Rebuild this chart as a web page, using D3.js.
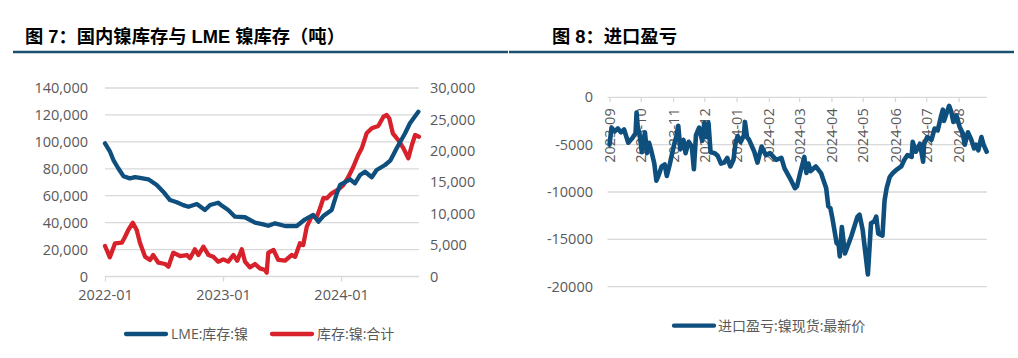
<!DOCTYPE html>
<html><head><meta charset="utf-8">
<script src="https://cdn.jsdelivr.net/npm/d3@7/dist/d3.min.js"></script>
<style>
html,body{margin:0;padding:0;background:#fff;}
svg{display:block;}
</style></head>
<body>
<svg id="c" width="1018" height="358"></svg>
<script>
// ---------- DATA ----------
const leftTitle = "图 7：国内镍库存与 LME 镍库存（吨）";
const rightTitle = "图 8：进口盈亏";
const lmeName = "LME:库存:镍";
const domName = "库存:镍:合计";
const spreadName = "进口盈亏:镍现货:最新价";

const lmeDates = ["2022-01-01","2022-01-16","2022-01-27","2022-02-11","2022-02-27","2022-03-19","2022-04-04","2022-04-19","2022-05-15","2022-06-10","2022-06-30","2022-07-21","2022-08-11","2022-08-31","2022-09-16","2022-10-12","2022-11-06","2022-11-22","2022-12-17","2022-12-29","2023-01-17","2023-02-07","2023-03-10","2023-04-10","2023-05-02","2023-05-21","2023-06-11","2023-07-12","2023-08-17","2023-09-12","2023-10-07","2023-10-23","2023-11-07","2023-12-03","2023-12-19","2023-12-29","2024-01-29","2024-02-13","2024-02-29","2024-03-15","2024-04-05","2024-04-20","2024-05-16","2024-06-01","2024-06-21","2024-07-17","2024-08-01","2024-08-27"];
const lmeValues = [98900,93000,86500,80400,74500,72900,73800,73200,72200,68000,63000,56800,55200,53000,51800,53800,49400,53100,54800,52500,49400,44400,44000,40000,38900,37700,39500,37500,37500,42500,45700,40700,44900,49400,61800,68000,72200,69200,75400,77800,73700,79100,82800,86000,95200,106400,113800,122400];

const domDates = ["2022-01-01","2022-01-16","2022-02-01","2022-02-22","2022-03-04","2022-03-14","2022-03-28","2022-04-09","2022-04-19","2022-05-05","2022-05-20","2022-05-30","2022-06-15","2022-07-06","2022-07-16","2022-07-31","2022-08-21","2022-09-11","2022-09-21","2022-10-06","2022-10-17","2022-11-01","2022-11-17","2022-12-02","2022-12-17","2023-01-02","2023-01-17","2023-02-02","2023-02-14","2023-02-28","2023-03-10","2023-03-25","2023-04-10","2023-04-25","2023-05-11","2023-05-16","2023-05-21","2023-06-06","2023-06-21","2023-07-12","2023-08-01","2023-08-12","2023-08-27","2023-09-06","2023-09-17","2023-10-02","2023-10-18","2023-10-28","2023-11-07","2023-11-18","2023-12-03","2023-12-24","2024-01-08","2024-01-24","2024-02-08","2024-02-23","2024-03-05","2024-03-20","2024-04-05","2024-04-25","2024-05-11","2024-05-21","2024-05-29","2024-06-09","2024-06-26","2024-07-12","2024-07-27","2024-08-07","2024-08-17","2024-08-29"];
const domValues = [4850,3050,5280,5380,6330,7400,8560,7400,5380,3150,2630,3420,2200,1990,1560,3790,3260,3420,2900,4330,3420,4740,3420,3150,2360,2730,2360,3420,2520,4330,2360,1460,1990,1300,1030,600,3790,4220,2630,2520,3420,3150,5280,5010,7930,9520,9520,10850,12450,12450,13240,13880,14560,15880,17470,19340,20400,22790,23590,23950,25430,25700,25180,22790,21720,20400,18810,20930,22520,22250];

const spreadDates = ["2023-09-01","2023-09-03","2023-09-06","2023-09-09","2023-09-12","2023-09-15","2023-09-19","2023-09-23","2023-09-26","2023-09-27","2023-09-28","2023-09-30","2023-10-02","2023-10-05","2023-10-07","2023-10-09","2023-10-11","2023-10-14","2023-10-16","2023-10-18","2023-10-21","2023-10-24","2023-10-26","2023-10-29","2023-11-02","2023-11-04","2023-11-06","2023-11-08","2023-11-11","2023-11-13","2023-11-16","2023-11-19","2023-11-21","2023-11-23","2023-11-26","2023-11-29","2023-12-01","2023-12-03","2023-12-05","2023-12-07","2023-12-11","2023-12-14","2023-12-17","2023-12-20","2023-12-23","2023-12-26","2023-12-29","2023-12-31","2024-01-02","2024-01-05","2024-01-08","2024-01-09","2024-01-11","2024-01-13","2024-01-18","2024-01-21","2024-01-25","2024-01-29","2024-02-02","2024-02-08","2024-02-13","2024-02-16","2024-02-21","2024-02-26","2024-02-28","2024-03-02","2024-03-06","2024-03-08","2024-03-10","2024-03-12","2024-03-17","2024-03-22","2024-03-27","2024-03-29","2024-03-31","2024-04-02","2024-04-06","2024-04-08","2024-04-09","2024-04-11","2024-04-14","2024-04-20","2024-04-26","2024-04-28","2024-05-01","2024-05-06","2024-05-09","2024-05-12","2024-05-14","2024-05-16","2024-05-20","2024-05-22","2024-05-24","2024-05-27","2024-05-30","2024-06-02","2024-06-07","2024-06-10","2024-06-13","2024-06-17","2024-06-18","2024-06-21","2024-06-25","2024-06-28","2024-06-29","2024-07-02","2024-07-06","2024-07-09","2024-07-12","2024-07-15","2024-07-17","2024-07-18","2024-07-23","2024-07-25","2024-07-27","2024-07-30","2024-08-02","2024-08-05","2024-08-07","2024-08-10","2024-08-13","2024-08-16","2024-08-18","2024-08-20","2024-08-23","2024-08-25","2024-08-28"];
const spreadValues = [-5000,-3200,-3600,-3300,-3700,-3400,-4800,-4300,-3800,-1600,-3000,-4000,-5800,-3700,-5900,-4800,-5600,-7000,-8800,-8300,-7300,-7100,-8300,-7000,-5000,-4200,-3000,-5500,-4500,-5900,-4700,-5200,-7600,-4000,-3200,-4600,-2700,-4200,-2700,-5800,-5900,-6200,-7000,-6900,-6400,-7300,-6600,-4800,-4100,-4700,-4000,-2600,-4200,-4500,-5750,-6900,-5200,-6100,-5900,-6600,-6400,-7500,-8500,-9600,-9400,-8000,-6300,-8000,-7000,-7800,-7300,-8000,-9600,-11500,-11700,-12800,-15400,-15600,-16800,-13700,-16500,-14700,-12600,-12400,-14000,-18700,-13300,-13100,-12600,-14400,-14600,-10900,-9600,-8400,-8000,-7700,-7300,-6600,-6100,-6300,-4700,-5750,-4900,-6800,-4900,-4200,-4500,-3300,-3500,-2100,-1300,-2500,-900,-1500,-2600,-1900,-3100,-3800,-5000,-3700,-4400,-5400,-5000,-5600,-4200,-5000,-5750];

const leftTicksL = [0,20000,40000,60000,80000,100000,120000,140000];
const leftTicksR = [0,5000,10000,15000,20000,25000,30000];
const leftXTicks = ["2022-01-01","2023-01-01","2024-01-01"];
const rightYTicks = [0,-5000,-10000,-15000,-20000];
const rightXTicks = ["2023-09-01","2023-10-01","2023-11-01","2023-12-01","2024-01-01","2024-02-01","2024-03-01","2024-04-01","2024-05-01","2024-06-01","2024-07-01","2024-08-01"];

// ---------- STYLE ----------
const BLUE = "#0e4f7d", RED = "#d7212b", GRID = "#d9d9d9", TXT = "#595959";
const numFont = "'Open Sans','Noto Sans CJK SC',sans-serif";
const titleFont = "'Liberation Sans','Noto Sans CJK SC',sans-serif";

const parse = d3.timeParse("%Y-%m-%d");
const svg = d3.select("#c");
svg.append("rect").attr("width",1018).attr("height",358).attr("fill","#fff");

// titles
svg.append("text").attr("x",25).attr("y",43).text(leftTitle)
  .attr("font-family",titleFont).attr("font-weight",700).attr("font-size",18.3).attr("fill","#000");
svg.append("text").attr("x",552).attr("y",43).text(rightTitle)
  .attr("font-family",titleFont).attr("font-weight",700).attr("font-size",18.3).attr("fill","#000");
svg.append("line").attr("x1",13).attr("x2",508).attr("y1",52).attr("y2",52).attr("stroke","#1b4f72").attr("stroke-width",2.6);
svg.append("line").attr("x1",509).attr("x2",1014).attr("y1",52).attr("y2",52).attr("stroke","#1b4f72").attr("stroke-width",2.6);

// ---------- LEFT CHART ----------
const xL = d3.scaleTime().domain([parse("2022-01-01"), parse("2024-08-29")]).range([105, 419]);
const yL = d3.scaleLinear().domain([0,140000]).range([276.5, 88]);
const yR = d3.scaleLinear().domain([0,30000]).range([276.5, 88]);

const gL = svg.append("g");
gL.selectAll("line.grid").data(leftTicksL).join("line")
  .attr("x1",105).attr("x2",419).attr("y1",d=>yL(d)).attr("y2",d=>yL(d))
  .attr("stroke",GRID).attr("stroke-width",1.3);

const axL = gL.append("g").attr("transform","translate(88,0)")
  .call(d3.axisLeft(yL).tickValues(leftTicksL).tickFormat(d3.format(",")).tickSize(0).tickPadding(0));
const axR = gL.append("g").attr("transform","translate(430,0)")
  .call(d3.axisRight(yR).tickValues(leftTicksR).tickFormat(d3.format(",")).tickSize(0).tickPadding(0));
const axX = gL.append("g").attr("transform","translate(0,276.5)")
  .call(d3.axisBottom(xL).tickValues(leftXTicks.map(parse)).tickFormat(d3.timeFormat("%Y-%m")).tickSize(5).tickPadding(8));
[axL,axR,axX].forEach(a=>{
  a.select(".domain").remove();
  a.selectAll("text").attr("font-family",numFont).attr("font-size",14.5).attr("fill",TXT);
  a.selectAll("line").attr("stroke",GRID).attr("stroke-width",1.3);
});

const lineL = d3.line().x(d=>xL(d[0])).y(d=>yL(d[1]));
const lineR = d3.line().x(d=>xL(d[0])).y(d=>yR(d[1]));
gL.append("path").datum(domDates.map((d,i)=>[parse(d),domValues[i]]))
  .attr("d",lineR).attr("fill","none").attr("stroke",RED).attr("stroke-width",4.3)
  .attr("stroke-linejoin","round").attr("stroke-linecap","round");
gL.append("path").datum(lmeDates.map((d,i)=>[parse(d),lmeValues[i]]))
  .attr("d",lineL).attr("fill","none").attr("stroke",BLUE).attr("stroke-width",4.3)
  .attr("stroke-linejoin","round").attr("stroke-linecap","round");

// left legend
const legL = [{name:lmeName,color:BLUE,x:126},{name:domName,color:RED,x:272}];
legL.forEach(l=>{
  svg.append("line").attr("x1",l.x).attr("x2",l.x+40).attr("y1",334).attr("y2",334)
    .attr("stroke",l.color).attr("stroke-width",4.3).attr("stroke-linecap","round");
  svg.append("text").attr("x",l.x+45).attr("y",334).attr("dy","0.35em").text(l.name)
    .attr("font-family",numFont).attr("font-size",14).attr("fill",TXT);
});

// ---------- RIGHT CHART ----------
const xS = d3.scaleTime().domain([parse("2023-09-01"), parse("2024-08-29")]).range([609.5, 987.7]);
const yS = d3.scaleLinear().domain([-20000,0]).range([286.7, 97.3]);
const gR = svg.append("g");
gR.selectAll("line.grid").data(rightYTicks).join("line")
  .attr("x1",607.5).attr("x2",987).attr("y1",d=>yS(d)).attr("y2",d=>yS(d))
  .attr("stroke",GRID).attr("stroke-width",1.3);
const axSY = gR.append("g").attr("transform","translate(593,0)")
  .call(d3.axisLeft(yS).tickValues(rightYTicks).tickFormat(d=>String(d)).tickSize(0).tickPadding(0));
const axSX = gR.append("g").attr("transform",`translate(0,${yS(0)})`)
  .call(d3.axisBottom(xS).tickValues(rightXTicks.map(parse)).tickFormat(d3.timeFormat("%Y-%m")).tickSize(5));
[axSY,axSX].forEach(a=>{
  a.select(".domain").remove();
  a.selectAll("text").attr("font-family",numFont).attr("font-size",14.5).attr("fill",TXT);
  a.selectAll("line").attr("stroke",GRID).attr("stroke-width",1.3);
});
axSX.selectAll("text").attr("transform","rotate(-90)").attr("text-anchor","end")
  .attr("x",-11).attr("y",0).attr("dy","0.35em");

gR.append("path").datum(spreadDates.map((d,i)=>[parse(d),spreadValues[i]]))
  .attr("d",d3.line().x(d=>xS(d[0])).y(d=>yS(d[1])))
  .attr("fill","none").attr("stroke",BLUE).attr("stroke-width",4.6)
  .attr("stroke-linejoin","round").attr("stroke-linecap","round");

svg.append("line").attr("x1",674).attr("x2",714).attr("y1",325.7).attr("y2",325.7)
  .attr("stroke",BLUE).attr("stroke-width",4.3).attr("stroke-linecap","round");
svg.append("text").attr("x",718).attr("y",325.7).attr("dy","0.35em").text(spreadName)
  .attr("font-family",numFont).attr("font-size",14).attr("fill",TXT);
</script>
</body></html>
